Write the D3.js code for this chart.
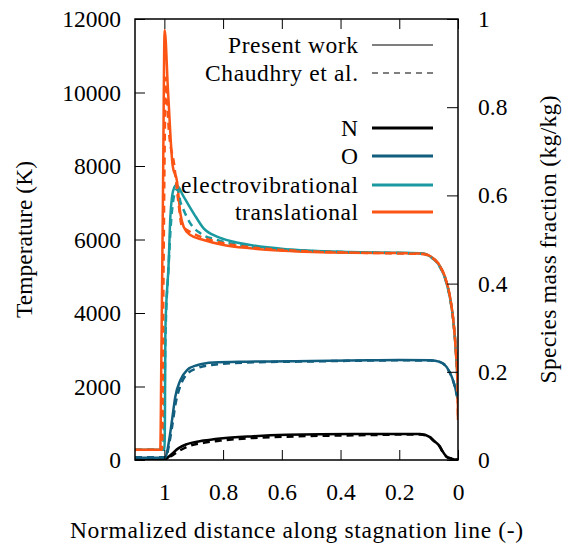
<!DOCTYPE html>
<html><head><meta charset="utf-8">
<script src="https://cdn.jsdelivr.net/npm/d3@7"></script>
<style>body{margin:0;background:#fff}svg{display:block}</style>
</head><body><svg id="c" width="563" height="548"></svg>
<script>
// ---- data: [normalized distance, value] ----
const xTicks = [1, 0.8, 0.6, 0.4, 0.2, 0];
const yTicks = [0, 2000, 4000, 6000, 8000, 10000, 12000];
const y2Ticks = [0, 0.2, 0.4, 0.6, 0.8, 1];

const trPresent = [[1.1,280],[1.014,280],[1.010,3000],[1.005,7000],[0.999,11700],[0.9874,10022],[0.9717,8008],[0.9568,7573],[0.9456,6713],[0.9344,6349],[0.9116,6122],[0.8663,5986],[0.7983,5850],[0.7075,5760],[0.5942,5695],[0.3673,5640],[0.2,5630],[0.118,5620],[0.0952,5551],[0.067,5352],[0.0442,4988],[0.0272,4443],[0.016,3810],[0.0068,2903],[0.001,1995],[0,1088]];
const trChaudhry = [[1.1,280],[1.008,280],[1.004,4000],[0.999,8500],[0.995,10400],[0.985,9000],[0.966,8000],[0.952,7000],[0.9398,6349],[0.9228,6259],[0.8776,6077],[0.8207,5940],[0.7075,5787],[0.594,5714],[0.4,5650],[0.2,5620],[0.118,5600],[0.095,5540],[0.067,5330],[0.044,4960],[0.027,4420],[0.016,3800],[0.007,2930],[0.002,2100],[0,1150]];
const evPresent = [[1.1,280],[1.0,280],[0.998,1088],[0.9966,3537],[0.9854,5352],[0.9796,6620],[0.9738,7166],[0.966,7420],[0.9592,7480],[0.9344,7166],[0.9003,6713],[0.8663,6304],[0.8207,6077],[0.7643,5940],[0.7075,5850],[0.5942,5741],[0.3673,5660],[0.2,5640],[0.12,5620],[0.095,5540],[0.067,5330],[0.044,4950],[0.027,4400],[0.016,3800],[0.007,2950],[0.002,2200],[0,1720]];
const evChaudhry = [[1.1,280],[1.004,280],[1.0,1500],[0.996,3400],[0.986,5200],[0.978,6400],[0.970,7050],[0.962,7330],[0.955,7380],[0.9456,7030],[0.9344,6803],[0.9116,6440],[0.8776,6168],[0.8207,5986],[0.7075,5810],[0.594,5730],[0.4,5660],[0.2,5630],[0.12,5610],[0.095,5530],[0.067,5320],[0.044,4940],[0.027,4390],[0.016,3790],[0.007,2940],[0.002,2150],[0,1700]];
const oPresent = [[1.1,0.005],[0.9966,0.005],[0.9854,0.038],[0.9738,0.091],[0.9626,0.144],[0.9456,0.181],[0.9228,0.204],[0.8888,0.215],[0.8323,0.221],[0.7187,0.223],[0.5,0.2245],[0.3,0.226],[0.2,0.2265],[0.095,0.226],[0.0612,0.2225],[0.0384,0.2106],[0.0214,0.189],[0.0102,0.166],[0.0024,0.144],[0,0.14]];
const oChaudhry = [[1.1,0.006],[0.994,0.006],[0.9854,0.030],[0.9738,0.075],[0.9626,0.125],[0.9456,0.168],[0.9228,0.195],[0.8888,0.208],[0.8323,0.216],[0.7187,0.221],[0.5,0.2235],[0.3,0.2255],[0.2,0.226],[0.095,0.2255],[0.0612,0.222],[0.0384,0.210],[0.0214,0.188],[0.0102,0.165],[0.0024,0.143],[0,0.14]];
const nPresent = [[1.1,0],[1.0024,0],[0.9796,0.011],[0.9514,0.027],[0.9228,0.036],[0.8663,0.044],[0.8095,0.049],[0.6963,0.054],[0.5827,0.057],[0.3561,0.059],[0.1293,0.059],[0.0952,0.052],[0.084,0.045],[0.0612,0.030],[0.0554,0.023],[0.0384,0.0075],[0.0214,0.003],[0.01,0.001],[0,0.001]];
const nChaudhry = [[1.1,0],[1.0,0],[0.9796,0.008],[0.9514,0.020],[0.9228,0.030],[0.8663,0.039],[0.8095,0.044],[0.6963,0.050],[0.5827,0.053],[0.3561,0.056],[0.1293,0.058],[0.0952,0.051],[0.084,0.044],[0.0612,0.029],[0.0554,0.022],[0.0384,0.007],[0.0214,0.003],[0.01,0.001],[0,0.001]];

const colors = {N:"#000000", O:"#125e7e", ev:"#1a9aa0", tr:"#fb5414"};

// ---- pick an installed serif font if there is one ----
const ctx = document.createElement("canvas").getContext("2d");
function has(name){
  const s = "Present work 0123456789 mmmWWWiii";
  ctx.font = "40px monospace"; const a = ctx.measureText(s).width;
  ctx.font = `40px '${name}', monospace`; const b = ctx.measureText(s).width;
  ctx.font = "40px sans-serif"; const c = ctx.measureText(s).width;
  ctx.font = `40px '${name}', sans-serif`; const d = ctx.measureText(s).width;
  return a !== b || c !== d;
}
const serifs = ["Liberation Serif","Tinos","Noto Serif","DejaVu Serif","FreeSerif","Times New Roman","Nimbus Roman","Times"];
const found = serifs.find(has);
const FONT = found ? `'${found}', serif` : "'Liberation Sans', 'DejaVu Sans', sans-serif";
const FS = 23.5;

// ---- layout ----
const L=135, R=458, T=19, B=460;
const svg = d3.select("#c").attr("font-family", FONT);
const x = d3.scaleLinear().domain([1.1,0]).range([L,R]);
const y = d3.scaleLinear().domain([0,12000]).range([B,T]);
const y2 = d3.scaleLinear().domain([0,1]).range([B,T]);

const lineT = d3.line().x(d=>x(d[0])).y(d=>y(d[1])).curve(d3.curveMonotoneX);
const lineS = d3.line().x(d=>x(d[0])).y(d=>y2(d[1])).curve(d3.curveMonotoneX);

svg.append("defs").append("clipPath").attr("id","cp").append("rect")
  .attr("x",L).attr("y",T).attr("width",R-L).attr("height",B-T);

const g = svg.append("g").attr("clip-path","url(#cp)");
const series = [
  [nPresent, lineS, colors.N, null],
  [oPresent, lineS, colors.O, null],
  [evPresent, lineT, colors.ev, null],
  [trPresent, lineT, colors.tr, null],
  [nChaudhry, lineS, colors.N, "7,5"],
  [oChaudhry, lineS, colors.O, "7,5"],
  [evChaudhry, lineT, colors.ev, "7,5"],
  [trChaudhry, lineT, colors.tr, "7,5"]
];
series.forEach(([data, gen, col, dash])=>{
  const p = g.append("path").attr("d", gen(data)).attr("fill","none")
    .attr("stroke", col).attr("stroke-width", 2.5).attr("stroke-linejoin","round");
  if (dash) p.attr("stroke-dasharray", dash);
});

// ---- axes (gnuplot style: inward ticks) ----
const axBottom = d3.axisBottom(x).tickValues(xTicks).tickSize(-10).tickPadding(23).tickFormat(d3.format("~g"));
const axTop = d3.axisTop(x).tickValues(xTicks).tickSize(-10).tickFormat("");
const axLeft = d3.axisLeft(y).tickValues(yTicks).tickSize(-10).tickPadding(14).tickFormat(d3.format("d"));
const axRight = d3.axisRight(y2).tickValues(y2Ticks).tickSize(-11).tickPadding(30).tickFormat(d3.format("~g"));

function style(sel){
  sel.attr("font-family", FONT).attr("font-size", FS);
  sel.select(".domain").remove();
  sel.selectAll(".tick line").attr("stroke","#000").attr("stroke-width",1);
  sel.selectAll(".tick text").attr("fill","#000");
}
svg.append("g").attr("transform",`translate(0,${B})`).call(axBottom).call(style);
svg.append("g").attr("transform",`translate(0,${T})`).call(axTop).call(style);
svg.append("g").attr("transform",`translate(${L},0)`).call(axLeft).call(style);
svg.append("g").attr("transform",`translate(${R},0)`).call(axRight).call(style)
  .selectAll(".tick text").attr("text-anchor","start").attr("x",20);

svg.append("rect").attr("x",L).attr("y",T).attr("width",R-L).attr("height",B-T)
  .attr("fill","none").attr("stroke","#000").attr("stroke-width",1.5);

// ---- text helper: fix rendered width to the reference's ----
const tx = (sel, w)=>{
  sel.attr("font-family",FONT).attr("font-size",FS).attr("fill","#000");
  if (w) sel.attr("textLength", w).attr("lengthAdjust","spacing");
};
svg.append("text").attr("x",(70+523)/2).attr("y",538).attr("text-anchor","middle")
  .call(tx, 453).text("Normalized distance along stagnation line (-)");
svg.append("text").attr("transform",`translate(32,${(T+B)/2}) rotate(-90)`).attr("text-anchor","middle")
  .call(tx, 157).text("Temperature (K)");
svg.append("text").attr("transform",`translate(556,${(T+B)/2}) rotate(-90)`).attr("text-anchor","middle")
  .call(tx, 288).text("Species mass fraction (kg/kg)");

// ---- legend ----
const legend = [
  ["Present work", "#000", 1.2, null, 45, 130],
  ["Chaudhry et al.", "#000", 1.2, "6,5", 73, 153],
  ["N", colors.N, 3, null, 128, null],
  ["O", colors.O, 3, null, 156, null],
  ["electrovibrational", colors.ev, 3, null, 185, 177],
  ["translational", colors.tr, 3, null, 212, 123]
];
legend.forEach(([lab,col,w,dash,ly,tw])=>{
  svg.append("text").attr("x",358).attr("y",ly).attr("dy","0.35em").attr("text-anchor","end").call(tx, tw).text(lab);
  const l = svg.append("line").attr("x1",372).attr("x2",433).attr("y1",ly).attr("y2",ly)
    .attr("stroke",col).attr("stroke-width",w);
  if (dash) l.attr("stroke-dasharray",dash);
});
</script></body></html>
